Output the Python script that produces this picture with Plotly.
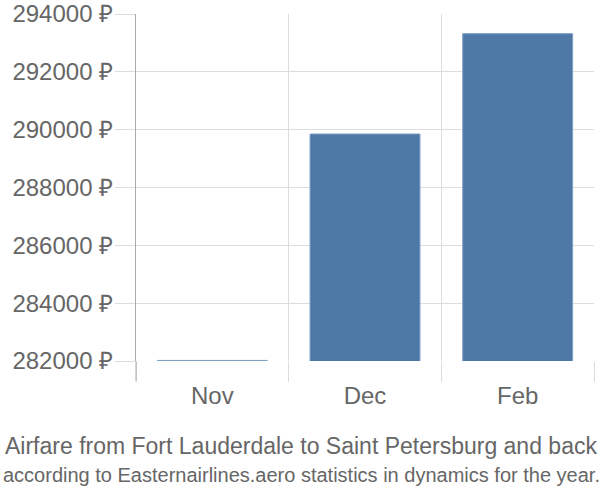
import plotly.graph_objects as go

months = ["Nov", "Dec", "Feb"]
prices = [282020, 289850, 293320]
y_ticks = [282000, 284000, 286000, 288000, 290000, 292000, 294000]
title_line1 = "Airfare from Fort Lauderdale to Saint Petersburg and back"
title_line2 = "according to Easternairlines.aero statistics in dynamics for the year."

L, R, T, B = 136, 6, 14, 139
PW, PH = 600 - L - R, 500 - T - B

fig = go.Figure()
fig.add_trace(go.Bar(
    x=months, y=prices, width=0.72,
    marker=dict(color="#4e79a7", line=dict(color="#7f9fc4", width=1)),
))

fig.update_layout(
    width=600, height=500,
    margin=dict(l=L, r=R, t=T, b=B, autoexpand=False),
    plot_bgcolor="white", paper_bgcolor="white",
    showlegend=False,
    font=dict(family="Liberation Sans, Arial, sans-serif", color="#666666"),
    xaxis=dict(
        tickson="boundaries", ticks="outside", ticklen=20, tickcolor="#dddddd",
        showgrid=True, gridcolor="#dddddd", gridwidth=1,
        tickfont=dict(size=24, color="#666666"), ticklabelstandoff=18,
        showline=False, range=[-0.5, 2.5], automargin=False,
    ),
    yaxis=dict(
        range=[282000, 294000], tickvals=y_ticks,
        ticktext=[f"{v} ₽" for v in y_ticks],
        ticks="outside", ticklen=20, tickcolor="#dddddd",
        showgrid=True, gridcolor="#dddddd", gridwidth=1,
        tickfont=dict(size=24, color="#666666"), ticklabelstandoff=-3,
        showline=True, linecolor="#aaaaaa", linewidth=1,
        zeroline=False, automargin=False,
    ),
    annotations=[
        dict(text=title_line1, xref="paper", yref="paper",
             x=(301 - L) / PW, xanchor="center",
             y=(500 - B - 446) / PH, yanchor="middle", showarrow=False,
             font=dict(size=23, color="#666666")),
        dict(text=title_line2, xref="paper", yref="paper",
             x=(301 - L) / PW, xanchor="center",
             y=(500 - B - 475) / PH, yanchor="middle", showarrow=False,
             font=dict(size=20, color="#666666")),
    ],
    shapes=[dict(type="line", xref="paper", yref="paper", x0=0, x1=0,
                 y0=-20 / PH, y1=0, line=dict(color="#aaaaaa", width=1))],
)

fig.write_html("out.html", config={"displayModeBar": False},
               post_script="document.body.style.margin='0';document.body.style.padding='0';")
